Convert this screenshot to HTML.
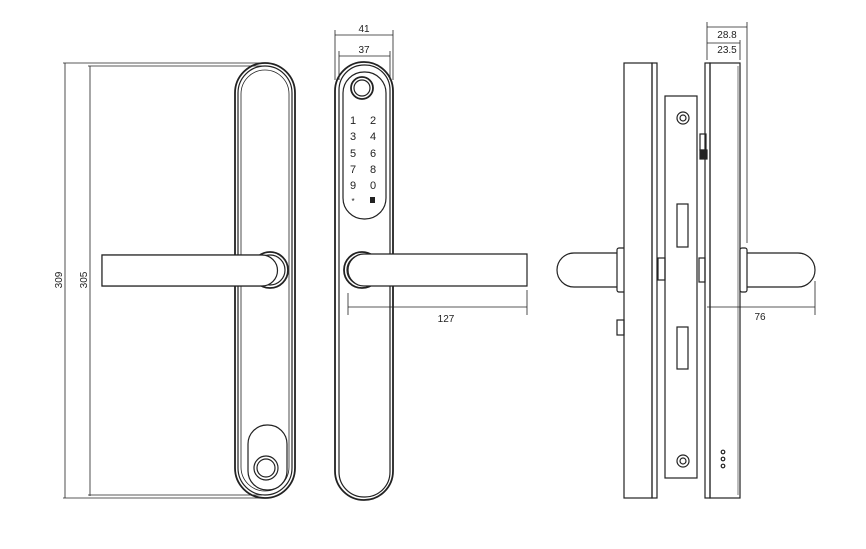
<!DOCTYPE html>
<html><head><style>body{margin:0;background:#fff}svg{display:block}text{font-family:"Liberation Sans",sans-serif;fill:#222}</style></head><body>
<svg width="866" height="549" viewBox="0 0 866 549" fill="none" stroke="#222" stroke-width="1.2">
<!-- LEFT VIEW -->
<line x1="65" y1="63" x2="65" y2="498" stroke-width="0.8"/>
<line x1="90" y1="66" x2="90" y2="496" stroke-width="0.8"/>
<line x1="63" y1="63" x2="265" y2="63" stroke-width="0.8"/>
<line x1="88" y1="66" x2="262" y2="66" stroke-width="0.8"/>
<line x1="63" y1="498" x2="265" y2="498" stroke-width="0.8"/>
<line x1="88" y1="495" x2="262" y2="495" stroke-width="0.8"/>
<text x="62" y="280" font-size="10" transform="rotate(-90 62 280)" text-anchor="middle" stroke="none">309</text>
<text x="87" y="280" font-size="10" transform="rotate(-90 87 280)" text-anchor="middle" stroke="none">305</text>
<rect x="235" y="63" width="60" height="435" rx="30" stroke-width="1.8"/>
<rect x="238" y="66" width="54" height="429" rx="27"/>
<rect x="241" y="70" width="48" height="421" rx="24" stroke-width="0.8"/>
<rect x="102" y="255" width="163" height="31" fill="#fff"/>
<circle cx="270" cy="270" r="18" stroke-width="1.8" fill="#fff"/>
<circle cx="270" cy="270" r="15"/>
<path d="M102 255 H262 A15 15 0 0 1 262 286 H102 Z" fill="#fff"/>
<rect x="248" y="425" width="39" height="65" rx="19"/>
<circle cx="266" cy="468" r="12"/>
<circle cx="266" cy="468" r="9"/>
<!-- MIDDLE VIEW -->
<line x1="335" y1="35" x2="393" y2="35" stroke-width="0.8"/>
<line x1="335" y1="30" x2="335" y2="80" stroke-width="0.8"/>
<line x1="393" y1="30" x2="393" y2="80" stroke-width="0.8"/>
<line x1="339" y1="56" x2="390" y2="56" stroke-width="0.8"/>
<line x1="339" y1="51" x2="339" y2="80" stroke-width="0.8"/>
<line x1="390" y1="51" x2="390" y2="80" stroke-width="0.8"/>
<text x="364" y="32" font-size="10" text-anchor="middle" stroke="none">41</text>
<text x="364" y="53" font-size="10" text-anchor="middle" stroke="none">37</text>
<rect x="335" y="62" width="58" height="438" rx="29" stroke-width="1.8"/>
<rect x="339" y="65" width="51" height="432" rx="25"/>
<rect x="343" y="72" width="43" height="147" rx="21"/>
<circle cx="362" cy="88" r="11" stroke-width="1.8"/>
<circle cx="362" cy="88" r="8"/>
<g font-size="11" stroke="none" text-anchor="middle">
<text x="353" y="124">1</text><text x="373" y="124">2</text>
<text x="353" y="140">3</text><text x="373" y="140">4</text>
<text x="353" y="157">5</text><text x="373" y="157">6</text>
<text x="353" y="173">7</text><text x="373" y="173">8</text>
<text x="353" y="189">9</text><text x="373" y="189">0</text>
<text x="353" y="204" font-size="8">*</text>
</g>
<rect x="370" y="197" width="5" height="6" fill="#222" stroke="none"/>
<circle cx="362" cy="270" r="18" stroke-width="1.8" fill="#fff"/>
<circle cx="362" cy="270" r="15"/>
<path d="M527 254 H364 A16 16 0 0 0 364 286 H527 Z" fill="#fff"/>
<line x1="348" y1="307" x2="527" y2="307" stroke-width="0.8"/>
<line x1="348" y1="293" x2="348" y2="315" stroke-width="0.8"/>
<line x1="527" y1="290" x2="527" y2="315" stroke-width="0.8"/>
<text x="446" y="322" font-size="10" text-anchor="middle" stroke="none">127</text>
<!-- RIGHT VIEW -->
<path d="M574 253 H620 V287 H574 A17 17 0 0 1 574 253 Z" fill="#fff"/>
<rect x="617" y="248" width="9" height="44" rx="2" fill="#fff"/>
<rect x="624" y="63" width="28" height="435" fill="#fff"/>
<rect x="652" y="63" width="5" height="435"/>
<rect x="617" y="320" width="7" height="15"/>
<rect x="658" y="258" width="7" height="22"/>
<rect x="665" y="96" width="32" height="382"/>
<circle cx="683" cy="118" r="6"/><circle cx="683" cy="118" r="3"/>
<circle cx="683" cy="461" r="6"/><circle cx="683" cy="461" r="3"/>
<rect x="677" y="204" width="11" height="43"/>
<rect x="677" y="327" width="11" height="42"/>
<rect x="700" y="134" width="6" height="16"/>
<rect x="700" y="150" width="7" height="9" fill="#222"/>
<rect x="699" y="258" width="6" height="24"/>
<rect x="705" y="63" width="5" height="435"/>
<rect x="710" y="63" width="30" height="435"/>
<line x1="738" y1="66" x2="738" y2="495" stroke-width="0.6"/>
<path d="M743 253 H798 A17 17 0 0 1 798 287 H743 Z" fill="#fff"/>
<rect x="740" y="248" width="7" height="44" rx="2" fill="#fff"/>
<line x1="707" y1="27" x2="747" y2="27" stroke-width="0.8"/>
<line x1="707" y1="22" x2="707" y2="60" stroke-width="0.8"/>
<line x1="747" y1="22" x2="747" y2="243" stroke-width="0.8"/>
<line x1="707" y1="43" x2="740" y2="43" stroke-width="0.8"/>
<line x1="740" y1="40" x2="740" y2="60" stroke-width="0.8"/>
<text x="727" y="38" font-size="10" text-anchor="middle" stroke="none">28.8</text>
<text x="727" y="53" font-size="10" text-anchor="middle" stroke="none">23.5</text>
<line x1="707" y1="307" x2="815" y2="307" stroke-width="0.8"/>
<line x1="815" y1="281" x2="815" y2="315" stroke-width="0.8"/>
<text x="760" y="320" font-size="10" text-anchor="middle" stroke="none">76</text>
<circle cx="723" cy="452" r="1.8"/><circle cx="723" cy="459" r="1.8"/><circle cx="723" cy="466" r="1.8"/>
</svg>
</body></html>
